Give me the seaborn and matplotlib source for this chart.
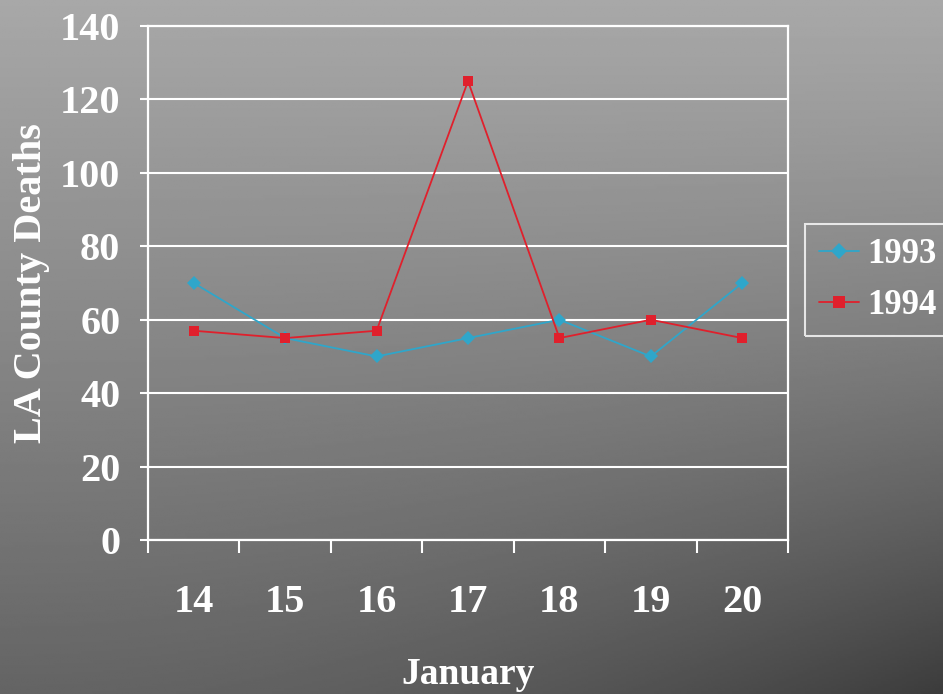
import numpy as np
import pandas as pd
import matplotlib
matplotlib.use("Agg")
import matplotlib.pyplot as plt
import seaborn as sns

# Data
days = ["14", "15", "16", "17", "18", "19", "20"]
deaths_1993 = [70, 55, 50, 55, 60, 50, 70]
deaths_1994 = [57, 55, 57, 125, 55, 60, 55]
years = ["1993", "1994"]
y_ticks = [0, 20, 40, 60, 80, 100, 120, 140]

df = pd.DataFrame({
    "pos": list(range(len(days))) * 2,
    "deaths": deaths_1993 + deaths_1994,
    "year": [years[0]] * len(days) + [years[1]] * len(days),
})

sns.set_style("white")
plt.rcParams["font.family"] = ["Liberation Serif", "DejaVu Serif"]
plt.rcParams["font.weight"] = "bold"

fig = plt.figure(figsize=(9.43, 6.94), dpi=100)

# Gradient background (light grey top-left, darker bottom-right)
bg = fig.add_axes([0, 0, 1, 1], zorder=-1)
xx, yy = np.meshgrid(np.linspace(0, 1, 400), np.linspace(0, 1, 300))
grad = 168 - 68 * yy - 40 * (xx * yy) ** 2
bg.imshow(grad, cmap="gray", vmin=0, vmax=255, aspect="auto", extent=[0, 1, 0, 1], origin="upper")
bg.axis("off")

ax = fig.add_axes([0.157, 0.2219, 0.6786, 0.7406])
ax.set_facecolor("none")

palette = {"1993": "#2fa6ca", "1994": "#e0202c"}
sns.lineplot(data=df, x="pos", y="deaths", hue="year", style="year",
             markers={"1993": "D", "1994": "s"}, dashes=False,
             palette=palette, linewidth=1.3, markeredgewidth=0,
             ax=ax, legend=True)
for ln, ms in zip(ax.lines, [7.5, 7]):
    ln.set_markersize(ms)

ax.set_xlim(-0.5, len(days) - 0.5)
ax.set_ylim(0, 140)
ax.set_yticks(y_ticks)
ax.set_yticklabels([str(v) for v in y_ticks])

# category boundaries as ticks, labels at centres
ax.set_xticks(np.arange(-0.5, len(days), 1.0))
ax.set_xticklabels([])
ax.set_xticks(np.arange(len(days)), minor=True)
ax.set_xticklabels(days, minor=True)

ax.tick_params(axis="x", which="major", bottom=True, length=9, width=1.5,
               color="white", direction="out")
ax.tick_params(axis="x", which="minor", bottom=True, length=0, pad=32,
               labelsize=29, labelcolor="white")
ax.tick_params(axis="y", left=True, length=6, width=1.5, color="white", direction="out",
               pad=14, labelsize=29, labelcolor="white")

ax.yaxis.grid(True, color="white", linewidth=1.5)
ax.xaxis.grid(False)
for s in ax.spines.values():
    s.set_color("white")
    s.set_linewidth(1.6)

ax.set_xlabel("January", fontsize=27, color="white", fontweight="bold")
ax.set_ylabel("LA County Deaths", fontsize=29, color="white", fontweight="bold")
ax.xaxis.set_label_coords(0.5, -0.228)
ax.yaxis.set_label_coords(-0.153, 0.5)

handles, labels = ax.get_legend_handles_labels()
for h in handles:
    h.set_markersize(8)
leg = ax.legend(handles, labels, loc="center left", bbox_to_anchor=(0.8537, 0.5965),
                bbox_transform=fig.transFigure, borderaxespad=0, frameon=True,
                fancybox=False, fontsize=25, handlelength=1.15, handletextpad=0.25,
                borderpad=0.4, labelspacing=0.5)
leg.get_frame().set_facecolor("none")
leg.get_frame().set_edgecolor("white")
leg.get_frame().set_linewidth(1.5)
for t in leg.get_texts():
    t.set_color("white")
    t.set_fontweight("bold")

fig.savefig("out.png", dpi=100)
